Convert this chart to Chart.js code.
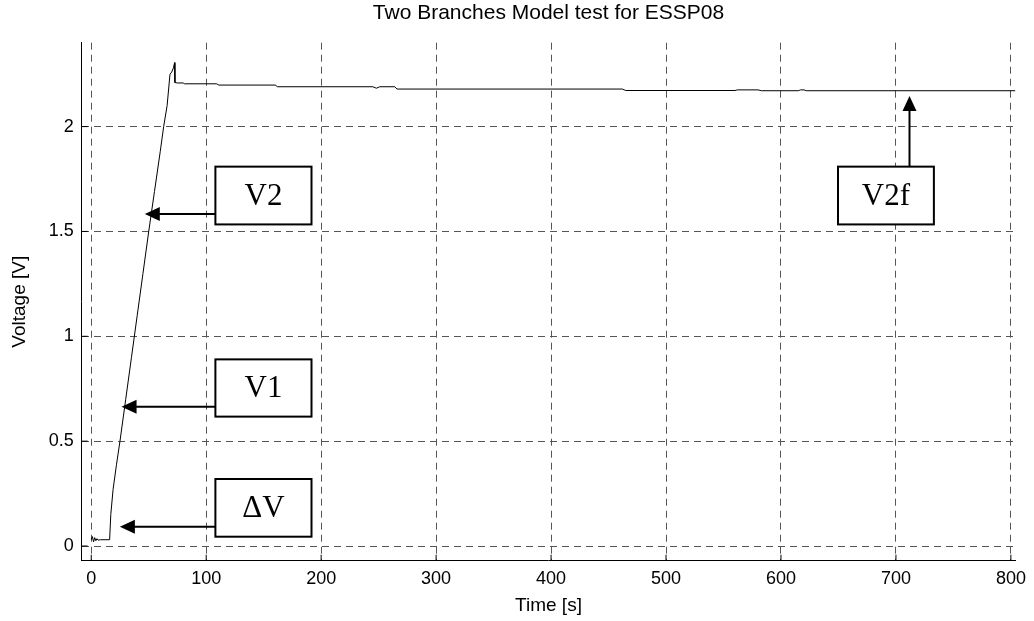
<!DOCTYPE html>
<html>
<head>
<meta charset="utf-8">
<script src="https://cdn.jsdelivr.net/npm/chart.js@4.4.1/dist/chart.umd.min.js"></script>
<style>
  body { margin: 0; background: #fff; }
  canvas { display: block; }
</style>
</head>
<body>
<canvas id="voltChart" width="1034" height="621"></canvas>
<script>
// measured trace, Two Branches Model test
const time = [0, 1, 2, 3, 4, 5, 6, 8, 12, 16, 17, 19, 22, 25, 30, 35, 40, 45, 50, 55,
    60, 63, 66, 68.5, 70, 71.5, 72.5, 72.8, 75, 80, 81, 109, 111, 160, 162, 245,
    248, 251, 264, 266, 462, 465, 560, 562, 580, 583, 615, 617, 620, 622, 804];
const voltage = [0.03, 0.045, 0.02, 0.04, 0.025, 0.035, 0.028, 0.03, 0.03, 0.03, 0.15, 0.27, 0.39, 0.5, 0.7, 0.9, 1.1, 1.3, 1.5, 1.69,
    1.88, 2.0, 2.1, 2.25, 2.26, 2.28, 2.305, 2.21, 2.208, 2.208, 2.204, 2.204, 2.198, 2.198, 2.19, 2.19,
    2.183, 2.19, 2.19, 2.179, 2.179, 2.172, 2.172, 2.175, 2.175, 2.171, 2.171, 2.175, 2.175, 2.171, 2.171];

const xTicks = [0, 100, 200, 300, 400, 500, 600, 700, 800];
const yTicks = [0, 0.5, 1, 1.5, 2];

// labelled call-outs (box corners and arrow tip in data units)
const callouts = [
    {text: "V2",  box: [108, 191.6, 1.809, 1.5335], from: "left", tip: [46.6, 1.5836]},
    {text: "V1",  box: [108, 191.6, 0.890, 0.617],  from: "left", tip: [26.4, 0.6644]},
    {text: "\u0394V", box: [108, 191.6, 0.3196, 0.0444], from: "left", tip: [24.9, 0.092]},
    {text: "V2f", box: [649.6, 733.0, 1.809, 1.5335], from: "top", tip: [711.8, 2.146]}
];

const axisFont = {family: "'Liberation Sans', Arial, sans-serif", size: 18};

const inwardTicks = {
    id: "inwardTicks",
    afterDraw(chart) {
        const c = chart.ctx, xs = chart.scales.x, ys = chart.scales.y, a = chart.chartArea;
        c.save();
        c.strokeStyle = "#000";
        c.lineWidth = 1;
        c.beginPath();
        for (const t of xTicks) {
            const px = xs.getPixelForValue(t);
            c.moveTo(px, a.bottom);
            c.lineTo(px, a.bottom - 6);
        }
        for (const t of yTicks) {
            const py = ys.getPixelForValue(t);
            c.moveTo(a.left, py);
            c.lineTo(a.left + 6, py);
        }
        c.stroke();
        c.restore();
    }
};

function arrowHead(c, x, y, dx, dy) {
    const len = 15, half = 7;
    const px = -dy, py = dx;
    c.beginPath();
    c.moveTo(x, y);
    c.lineTo(x - dx * len + px * half, y - dy * len + py * half);
    c.lineTo(x - dx * len - px * half, y - dy * len - py * half);
    c.closePath();
    c.fill();
}

const calloutPlugin = {
    id: "callouts",
    afterDraw(chart) {
        const c = chart.ctx, xs = chart.scales.x, ys = chart.scales.y;
        c.save();
        c.strokeStyle = "#000";
        c.fillStyle = "#000";
        c.lineWidth = 2;
        for (const o of callouts) {
            const l = xs.getPixelForValue(o.box[0]), r = xs.getPixelForValue(o.box[1]);
            const t = ys.getPixelForValue(o.box[2]), b = ys.getPixelForValue(o.box[3]);
            const tx = xs.getPixelForValue(o.tip[0]), ty = ys.getPixelForValue(o.tip[1]);
            c.fillStyle = "#fff";
            c.fillRect(l, t, r - l, b - t);
            c.fillStyle = "#000";
            c.strokeRect(l, t, r - l, b - t);
            c.beginPath();
            if (o.from === "left") {
                c.moveTo(l, ty);
                c.lineTo(tx + 12, ty);
                c.stroke();
                arrowHead(c, tx, ty, -1, 0);
            } else {
                c.moveTo(tx, t);
                c.lineTo(tx, ty + 12);
                c.stroke();
                arrowHead(c, tx, ty, 0, -1);
            }
            c.font = "31px 'Liberation Serif', 'Times New Roman', serif";
            c.textAlign = "center";
            c.textBaseline = "middle";
            c.fillText(o.text, (l + r) / 2, (t + b) / 2 + 1);
        }
        c.restore();
    }
};

const ctx = document.getElementById("voltChart").getContext("2d");
const chart = new Chart(ctx, {
    type: "line",
    data: {
        datasets: [{
            data: time.map((t, i) => ({x: t, y: voltage[i]})),
            borderColor: "#000",
            borderWidth: 1,
            pointRadius: 0,
            fill: false,
            tension: 0
        }]
    },
    options: {
        responsive: false,
        animation: false,
        layout: {padding: {left: 0, right: 16.3, top: 0, bottom: 0}},
        plugins: {
            legend: {display: false},
            tooltip: {enabled: false},
            title: {
                display: true,
                text: "Two Branches Model test for ESSP08",
                fullSize: false,
                color: "#000",
                font: {family: axisFont.family, size: 21, weight: "normal"},
                padding: {top: 0.5, bottom: 17}
            }
        },
        scales: {
            x: {
                type: "linear",
                min: -8.3,
                max: 803.8,
                afterFit(s) { s.height = 60.3; },
                ticks: {stepSize: 100, includeBounds: false, color: "#000", font: axisFont, padding: 8, maxRotation: 0},
                grid: {color: "#555", lineWidth: 1, drawTicks: false},
                border: {display: true, color: "#000", width: 1, dash: [7, 5]},
                title: {display: true, text: "Time [s]", color: "#000", font: {family: axisFont.family, size: 19}, padding: {top: 0, bottom: 4}}
            },
            y: {
                min: -0.07,
                max: 2.4,
                afterFit(s) { s.width = 81.7; },
                ticks: {stepSize: 0.5, includeBounds: false, color: "#000", font: axisFont, padding: 8,
                    callback: v => String(v)},
                grid: {color: "#555", lineWidth: 1, drawTicks: false},
                border: {display: true, color: "#000", width: 1, dash: [7, 5]},
                title: {display: true, text: "Voltage [V]", color: "#000", font: {family: axisFont.family, size: 19}, padding: {top: 8, bottom: 0}}
            }
        }
    },
    plugins: [inwardTicks, calloutPlugin]
});
</script>
</body>
</html>
